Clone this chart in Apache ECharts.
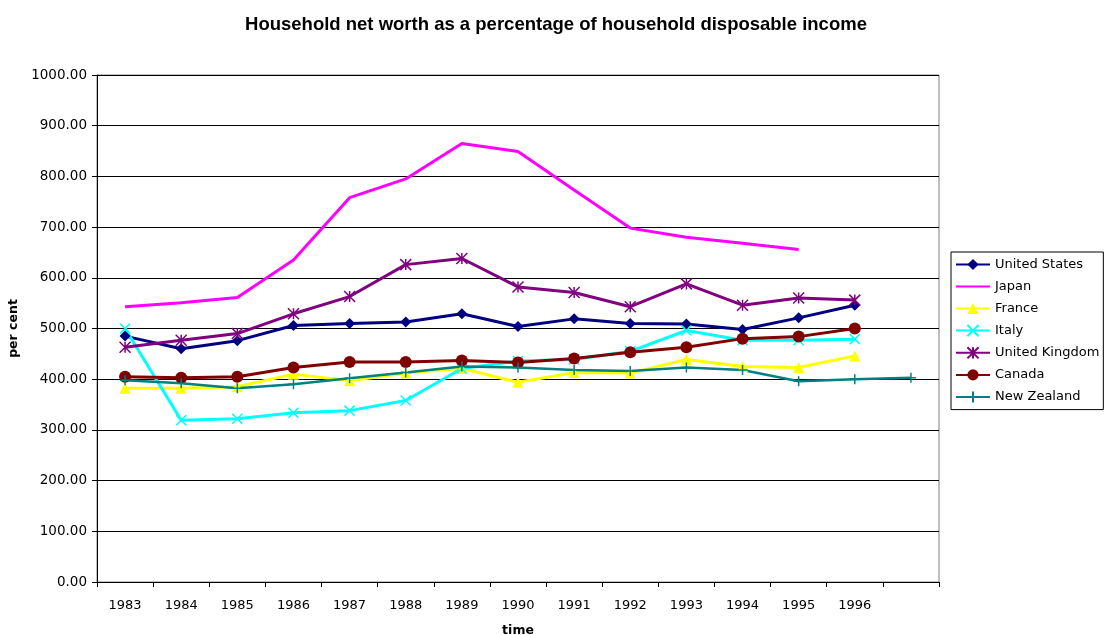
<!DOCTYPE html>
<html><head><meta charset="utf-8">
<script src="https://cdn.jsdelivr.net/npm/echarts@6/dist/echarts.min.js"></script>
<style>html,body{margin:0;padding:0;background:#fff}#c{width:1105px;height:635px}</style>
</head><body><div id="c"></div>
<script>
const categories = ['1983','1984','1985','1986','1987','1988','1989','1990','1991','1992','1993','1994','1995','1996',''];
const unitedStates = [485,460,476,506,510,513,529,504,519,510,509,498,521,546,null];
const japan = [543,551,561,635,758,795,865,849,773,698,680,668,656,null,null];
const france = [382,382,385,410,397,412,421,394,413,412,439,425,423,446,null];
const italy = [500,319,322,334,338,358,421,436,439,455,496,477,477,479,null];
const unitedKingdom = [463,477,490,529,563,626,638,582,571,543,588,546,560,556,null];
const canada = [405,403,405,423,434,434,437,433,441,453,463,480,484,500,null];
const newZealand = [398,392,382,390,402,413,425,423,418,416,423,418,396,400,403];

const P_X = 'path://M0,0L10,10M10,0L0,10';
const P_AST = 'path://M0,0L10,10M10,0L0,10M5,0L5,10';
const P_PLUS = 'path://M5,0L5,10M0,5L10,5';
const P_NONE = 'path://M0,0L10,10';
const FONT = 'DejaVu Sans, sans-serif';

function mk(name, data, color, symbol, size, stroke, lw, noSym) {
  return {
    name, type: 'line', data, symbol: symbol, symbolSize: size,
    showSymbol: !noSym, connectNulls: false,
    lineStyle: { color, width: lw || 3 },
    itemStyle: { color, borderColor: color, borderWidth: stroke ? 1.5 : 0 },
    emphasis: { disabled: true }, animation: false
  };
}

const chart = echarts.init(document.getElementById('c'));
chart.setOption({
  animation: false,
  backgroundColor: '#fff',
  textStyle: { fontFamily: FONT },
  title: {
    text: 'Household net worth as a percentage of household disposable income',
    left: 551, textAlign: 'center', top: 10,
    textStyle: { fontSize: 18.5, fontWeight: 'bold', color: '#000', fontFamily: 'Liberation Sans, Arial, sans-serif' }
  },
  legend: {
    orient: 'vertical', left: 951, top: 252,
    borderColor: '#000', borderWidth: 1, padding: [6, 4, 6, 4],
    itemWidth: 34, itemHeight: 14, itemGap: 9,
    textStyle: { fontSize: 13, color: '#000', fontFamily: FONT },
    data: ['United States','Japan','France','Italy','United Kingdom','Canada','New Zealand']
  },
  grid: { left: 97, right: 166, top: 75, bottom: 53, show: true, borderColor: '#808080', borderWidth: 1, outerBoundsMode: 'none', containLabel: false },
  xAxis: {
    type: 'category', data: categories, boundaryGap: true,
    name: 'time', nameLocation: 'middle', nameGap: 42,
    nameTextStyle: { fontSize: 12.5, fontWeight: 'bold', color: '#000', fontFamily: FONT },
    axisLine: { lineStyle: { color: '#000', width: 1 } },
    axisTick: { show: true, length: 5, interval: 0, lineStyle: { color: '#000' } },
    axisLabel: { interval: 0, fontSize: 13, color: '#000', margin: 17, fontFamily: FONT },
    splitLine: { show: false }
  },
  yAxis: {
    type: 'value', min: 0, max: 1000, interval: 100,
    name: 'per cent', nameLocation: 'middle', nameGap: 76, nameRotate: 90,
    nameTextStyle: { fontSize: 12.5, fontWeight: 'bold', color: '#000', fontFamily: FONT },
    axisLine: { show: true, lineStyle: { color: '#000', width: 1 } },
    axisTick: { show: true, length: 5, lineStyle: { color: '#000' } },
    axisLabel: { fontSize: 13.5, color: '#000', margin: 10, fontFamily: FONT, formatter: v => v.toFixed(2) },
    splitLine: { show: true, lineStyle: { color: '#000', width: 1 } }
  },
  series: [
    mk('United States', unitedStates, '#000080', 'diamond', 11, false),
    mk('Japan', japan, '#FF00FF', P_NONE, 10, false, 3, true),
    mk('France', france, '#FFFF00', 'triangle', 11, false),
    mk('Italy', italy, '#00FFFF', P_X, 10, true),
    mk('United Kingdom', unitedKingdom, '#800080', P_AST, 11, true),
    mk('Canada', canada, '#800000', 'circle', 12, false),
    mk('New Zealand', newZealand, '#008080', P_PLUS, 10, true, 2.5)
  ]
});
</script></body></html>
